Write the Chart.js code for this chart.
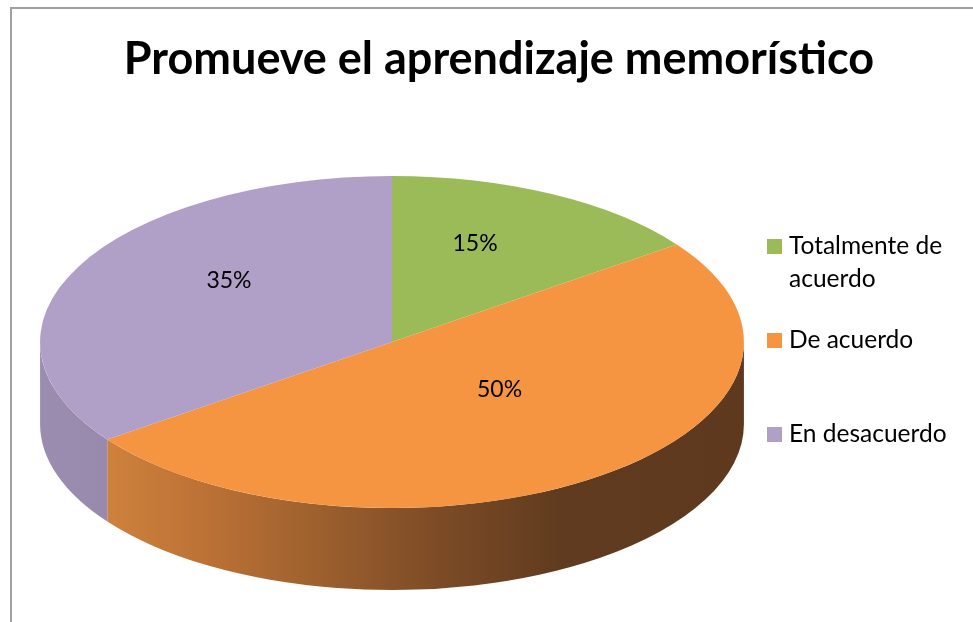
<!DOCTYPE html>
<html>
<head>
<meta charset="utf-8">
<script src="https://cdn.jsdelivr.net/npm/chart.js@4.4.1/dist/chart.umd.min.js"></script>
<style>
html, body { margin: 0; padding: 0; background: #ffffff; }
#wrap { position: relative; width: 973px; height: 622px; }
canvas { display: block; }
</style>
</head>
<body>
<div id="wrap"><canvas id="c" width="973" height="622"></canvas></div>
<script>
// ---- data ----
const chartTitle = 'Promueve el aprendizaje memorístico';
const categories = ['Totalmente de acuerdo', 'De acuerdo', 'En desacuerdo'];
const legendLines = [['Totalmente de', 'acuerdo'], ['De acuerdo'], ['En desacuerdo']];
const values = [15, 50, 35];
const valueLabels = ['15%', '50%', '35%'];
const topColors = ['#9bbb59', '#f59542', '#b09fc6'];

// ---- 3D look (styles) ----
const ASPECT = 2.12;     // horizontal stretch of the flattened pie
const DEPTH = 82;        // thickness of the pie wall
const wallStops = [
  [[0, '#7c9448'], [1, '#5f7236']],
  [[0, '#d98b42'], [0.05, '#d4873f'], [0.23, '#bd7236'], [0.37, '#a2632f'], [0.55, '#7f4d27'], [0.74, '#603b1f'], [1, '#5e391e']],
  [[0, '#9a8db0'], [0.2, '#9386a8'], [1, '#8a7d9e']]
];
const FONT = 'Lato, Carlito, Calibri, "Open Sans", sans-serif';

const pie3d = {
  id: 'pie3d',
  beforeDatasetsDraw(chart) {
    const ctx = chart.ctx;
    const meta = chart.getDatasetMeta(0);
    meta.data.forEach((arc, i) => {
      const p = arc.getProps(['x', 'y', 'startAngle', 'endAngle', 'outerRadius'], true);
      const rx = p.outerRadius * ASPECT, ry = p.outerRadius;
      const a1 = Math.max(p.startAngle, 0), a2 = Math.min(p.endAngle, Math.PI);
      if (a2 <= a1) return;
      const g = ctx.createLinearGradient(p.x - rx, 0, p.x + rx, 0);
      wallStops[i].forEach(([s, c]) => g.addColorStop(s, c));
      ctx.save();
      ctx.fillStyle = g;
      ctx.beginPath();
      ctx.ellipse(p.x, p.y, rx, ry, 0, a1, a2);
      ctx.ellipse(p.x, p.y + DEPTH, rx, ry, 0, a2, a1, true);
      ctx.closePath();
      ctx.fill();
      ctx.restore();
    });
    const a0 = meta.data[0];
    ctx.save();
    ctx.translate(a0.x, a0.y);
    ctx.scale(ASPECT, 1);
    ctx.translate(-a0.x, -a0.y);
  },
  afterDatasetsDraw(chart) {
    const ctx = chart.ctx;
    ctx.restore();
    const meta = chart.getDatasetMeta(0);
    ctx.save();
    ctx.fillStyle = '#000000';
    ctx.font = '23px ' + FONT;
    ctx.textAlign = 'center';
    ctx.textBaseline = 'middle';
    meta.data.forEach((arc, i) => {
      const p = arc.getProps(['x', 'y', 'startAngle', 'endAngle', 'outerRadius'], true);
      const mid = (p.startAngle + p.endAngle) / 2;
      const f = 0.52;
      const lx = p.x + Math.cos(mid) * p.outerRadius * ASPECT * f;
      const ly = p.y + Math.sin(mid) * p.outerRadius * f - 22;
      ctx.fillText(valueLabels[i], lx, ly);
    });
    ctx.restore();
  },
  afterDraw(chart) {
    const ctx = chart.ctx;
    ctx.save();
    // frame
    ctx.strokeStyle = '#a0a0a0';
    ctx.lineWidth = 2;
    ctx.beginPath();
    ctx.moveTo(11, chart.height + 5);
    ctx.lineTo(11, 8);
    ctx.lineTo(chart.width + 5, 8);
    ctx.stroke();
    // title
    ctx.fillStyle = '#000000';
    ctx.font = 'bold 45px ' + FONT;
    ctx.textAlign = 'center';
    ctx.textBaseline = 'alphabetic';
    ctx.fillText(chartTitle, 499, 74);
    // legend
    ctx.font = '24.5px ' + FONT;
    ctx.textAlign = 'left';
    ctx.textBaseline = 'middle';
    const rows = [246, 340, 434];
    legendLines.forEach((lines, i) => {
      ctx.fillStyle = topColors[i];
      ctx.fillRect(767, rows[i] - 7, 15, 15);
      ctx.fillStyle = '#000000';
      lines.forEach((t, j) => ctx.fillText(t, 789, rows[i] + j * 33));
    });
    ctx.restore();
  }
};

new Chart(document.getElementById('c'), {
  type: 'pie',
  data: {
    labels: categories,
    datasets: [{
      data: values,
      backgroundColor: topColors,
      borderWidth: 0,
      hoverOffset: 0,
      offset: 0
    }]
  },
  options: {
    responsive: false,
    animation: false,
    radius: 166,
    layout: { padding: { top: 176, bottom: 114, left: 226, right: 415 } },
    plugins: {
      legend: { display: false },
      title: { display: false },
      tooltip: { enabled: false }
    },
    events: []
  },
  plugins: [pie3d]
});
</script>
</body>
</html>
